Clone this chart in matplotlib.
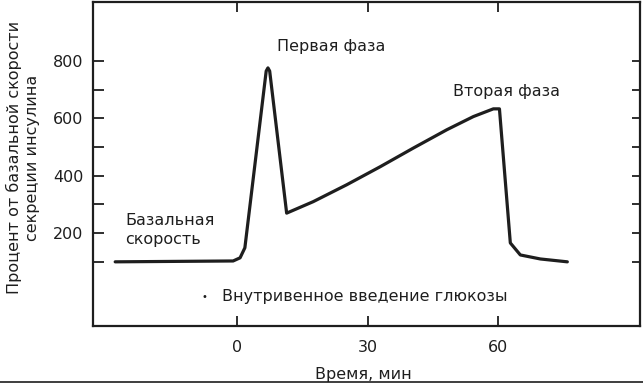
import numpy as np
import matplotlib
matplotlib.use("Agg")
import matplotlib.pyplot as plt
from matplotlib.ticker import FixedLocator

# curve (time in min, % of basal secretion)
time_min = [-28.0, -0.9, 0.7, 1.8, 6.7, 7.1, 7.5, 11.4, 17.5, 25.2, 32.9, 40.5, 48.2, 54.3, 58.9, 60.3, 62.8, 65.1, 69.7, 75.9]
secretion = [99, 102, 113, 148, 765, 776, 765, 269, 309, 368, 431, 496, 560, 606, 633, 633, 165, 123, 109, 99]

y_major = [200, 400, 600, 800]
y_all = [100, 200, 300, 400, 500, 600, 700, 800]
x_ticks = [0, 30, 60]

INK = "#1e1e1e"
FS = 11.5
plt.rcParams['font.family'] = ['DejaVu Sans']

fig = plt.figure(figsize=(6.43, 3.84), dpi=100)
ax = fig.add_axes([93/643, 1 - 326/384, (640 - 93)/643, (326 - 2)/384])

ax.plot(time_min, secretion, color=INK, lw=2.3, solid_joinstyle="round", solid_capstyle="round")

ax.set_xlim(-33.1, 92.6)
ax.set_ylim(-125, 1006)

for s in ax.spines.values():
    s.set_linewidth(1.6)
    s.set_color(INK)

# left + bottom ticks
ax.yaxis.set_major_locator(FixedLocator(y_major))
ax.yaxis.set_minor_locator(FixedLocator([v for v in y_all if v not in y_major]))
ax.xaxis.set_major_locator(FixedLocator(x_ticks))
ax.tick_params(axis="y", which="both", direction="in", length=8, width=1.3, color=INK,
               labelsize=FS, labelcolor=INK, pad=7, right=False)
ax.tick_params(axis="x", which="both", direction="in", length=7, width=1.3, color=INK,
               labelsize=FS, labelcolor=INK, pad=10, top=True)

# right side ticks (no labels)
axr = ax.twinx()
axr.set_ylim(ax.get_ylim())
axr.yaxis.set_major_locator(FixedLocator(y_all))
axr.tick_params(axis="y", direction="in", length=6, width=1.3, color=INK, labelright=False)
for s in axr.spines.values():
    s.set_visible(False)

fig.text(363.5/643, 1 - 374/384, "Время, мин", fontsize=FS, color=INK, ha="center", va="center")

fig.text(23/643, 0.59, "Процент от базальной скорости\nсекреции инсулина", rotation=90,
         ha="center", va="center", fontsize=FS, color=INK, linespacing=1.2)

ax.text(9.2, 849, "Первая фаза", fontsize=FS, color=INK, va="center", ha="left")
ax.text(49.7, 692, "Вторая фаза", fontsize=FS, color=INK, va="center", ha="left")
ax.text(-25.7, 210, "Базальная\nскорость", fontsize=FS, color=INK, va="center", ha="left",
        linespacing=1.3)
ax.text(-7.6, -23, "•", fontsize=7, color=INK, va="center", ha="center")
ax.text(-3.5, -23, "Внутривенное введение глюкозы", fontsize=FS, color=INK, va="center", ha="left")

# page edge from the scan
fig.add_artist(plt.Line2D([0, 1], [1 - 382/384, 1 - 382/384], color=INK, lw=1.2))

fig.savefig("out.png", dpi=100, facecolor="white")
